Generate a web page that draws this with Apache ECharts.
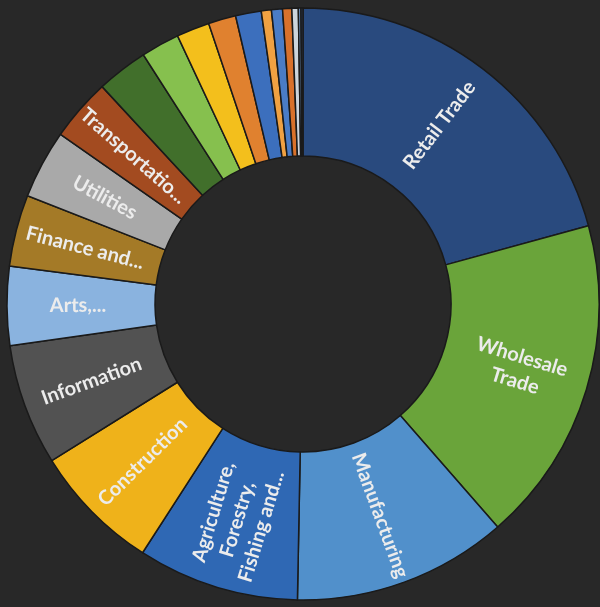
<!DOCTYPE html>
<html>
<head>
<meta charset="utf-8">
<script src="https://cdn.jsdelivr.net/npm/echarts@6/dist/echarts.min.js"></script>
<style>
  html, body { margin: 0; padding: 0; background: #282828; }
  #chart { width: 600px; height: 607px; }
</style>
</head>
<body>
<div id="chart"></div>
<script>
// Industry sectors, largest first, drawn clockwise from 12 o'clock
const sectors = [
  'Retail Trade', 'Wholesale Trade', 'Manufacturing',
  'Agriculture, Forestry, Fishing and Hunting', 'Construction', 'Information',
  'Arts, Entertainment, and Recreation', 'Finance and Insurance', 'Utilities',
  'Transportation and Warehousing', 'Sector 11', 'Sector 12', 'Sector 13',
  'Sector 14', 'Sector 15', 'Sector 16', 'Sector 17', 'Sector 18',
  'Sector 19', 'Sector 20', 'Sector 21'
];

// Share of total (%)
const shares = [
  20.7, 17.8, 11.7, 8.8, 7.0, 6.6, 4.3, 3.9, 3.75, 3.4,
  2.8, 2.1, 1.8, 1.5, 1.4, 0.55, 0.6, 0.5, 0.35, 0.14, 0.11
];

// Text printed inside each slice ('' = no label, slice too thin)
const sliceLabels = [
  'Retail Trade', 'Wholesale\nTrade', 'Manufacturing',
  'Agriculture,\nForestry,\nFishing and...', 'Construction', 'Information',
  'Arts,...', 'Finance and...', 'Utilities', 'Transportatio...',
  '', '', '', '', '', '', '', '', '', '', ''
];

const sliceColors = [
  '#294a7e', '#6aa43a', '#5190cb', '#2f68b4', '#efb21a', '#525252',
  '#8ab3df', '#a47a27', '#a9a9a9', '#a34b20', '#416f2b', '#86c04e',
  '#f3bf1c', '#e0812f', '#3c6fbd', '#f0a142', '#4a7cc6', '#d8712b',
  '#cdd5dc', '#7096c4', '#2c3e5c'
];

const chart = echarts.init(document.getElementById('chart'), null, { renderer: 'canvas' });

const seriesData = sectors.map((name, i) => ({
  name: name,
  value: shares[i],
  itemStyle: { color: sliceColors[i] },
  label: { show: sliceLabels[i] !== '', formatter: sliceLabels[i] }
}));

chart.setOption({
  backgroundColor: '#282828',
  animation: false,
  series: [{
    type: 'pie',
    center: [303, 304],
    radius: [148, 296],
    startAngle: 90,
    clockwise: true,
    avoidLabelOverlap: false,
    itemStyle: { borderColor: '#1a1a1a', borderWidth: 1.5 },
    label: {
      position: 'inside',
      rotate: 'radial',
      color: '#ececec',
      fontFamily: 'Lato, "Open Sans", sans-serif',
      fontSize: 20,
      fontWeight: 'bold',
      lineHeight: 25,
      align: 'center'
    },
    labelLine: { show: false },
    emphasis: { disabled: true },
    data: seriesData
  }]
});
</script>
</body>
</html>
